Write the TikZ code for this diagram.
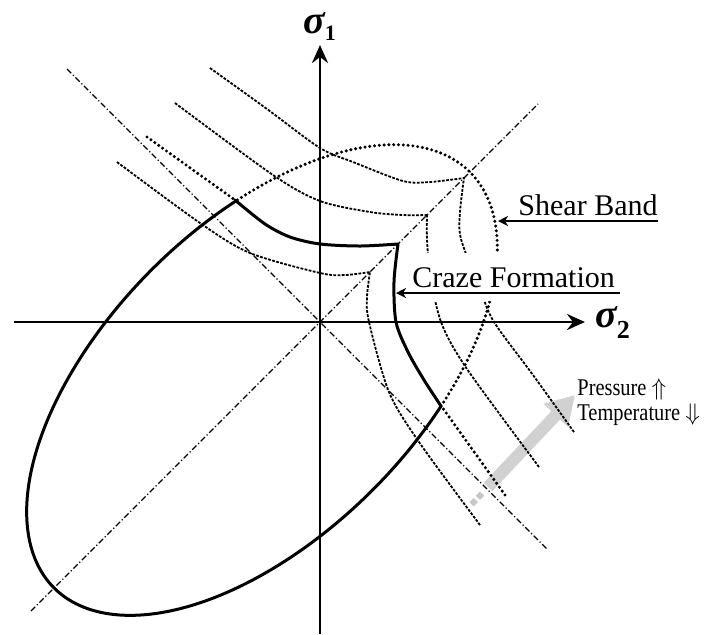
\documentclass[tikz,border=0pt]{standalone}
\usepackage{fontspec}
\setmainfont{Liberation Serif}
\newfontfamily\narrowfont[FakeStretch=0.85]{Liberation Serif}
\usepackage{amsmath,amssymb}
\usepackage{tikz}
\usetikzlibrary{arrows.meta,positioning}

\newcommand{\crazeset}{%
  \draw[craze] plot[smooth] coordinates {(-110,254) (-53,213) (0,174) (33,160) (83,141) (110,140) (144,144)};
  \draw[craze] plot[smooth] coordinates {(-145,219) (-47,147) (0,121) (50,110) (83,107) (107,107)};
  \draw[craze] plot[smooth] coordinates {(-203,160) (-120,99) (-70,69) (0,49) (25,47) (50,50)};
  \draw[bound] (-173,185) -- (-85,122);
}

\begin{document}
\begin{tikzpicture}[x=0.5pt, y=0.5pt, >=Stealth]
\tikzset{
  axis/.style={line width=1.4pt, -{Stealth[length=9pt,width=8pt,inset=3pt]}},
  envelope/.style={line width=1.5pt, line cap=round, line join=round},
  bound/.style={line width=1.7pt, line cap=round, dash pattern=on 0pt off 2.4pt},
  craze/.style={line width=0.9pt, dash pattern=on 1.4pt off 0.7pt},
  diag/.style={line width=0.6pt, dash pattern=on 3pt off 1.2pt on 0.6pt off 1.2pt},
  pointer/.style={line width=0.9pt, -{Stealth[length=5pt,width=5pt,inset=1.5pt]}},
  lbl/.style={font=\fontsize{15}{18}\selectfont, inner sep=0pt},
  axlbl/.style={font=\fontsize{20}{24}\selectfont\bfseries\itshape, inner sep=0pt, anchor=base west},
  loadarrow/.style={black!18, line width=6pt, -{Triangle[length=14pt,width=16pt]}},
}
\useasboundingbox (-320,-312) rectangle (395,322);
\coordinate (o) at (0,0);
\coordinate (load tail) at (168,-165);
\coordinate (load tip) at (255,-73);
\draw[black!22, line width=3pt, dash pattern=on 3pt off 1.5pt] (162,-171.5) -- (151.5,-182.5);
\draw[loadarrow] (load tail) -- (load tip);
\draw[diag] (-289,-289) -- (218,218);
\draw[diag] (-253,253) -- (228,-228);
\begin{scope}[shift={(-58,-58)}, rotate=45]
  \draw[envelope] (68.4:294 and 156) arc[start angle=68.4, end angle=291.6, x radius=294, y radius=156];
  \draw[bound] (-68.4:294 and 156) arc[start angle=-68.4, end angle=68.4, x radius=294, y radius=156];
\end{scope}
\crazeset
\begin{scope}[cm={0,1,1,0,(0,0)}]
  \crazeset
\end{scope}
\draw[envelope] plot[smooth] coordinates {(-85,122) (-55,98) (-30,85) (0,78) (40,76) (78,78)}
  -- plot[smooth] coordinates {(78,78) (74,40) (76,0) (88,-30) (104,-58) (121,-84)};
\draw[axis] (0,-312) -- (0,277);
\draw[axis] (-306,0) -- (265,0);
\node[axlbl] (s1) at (-17,289) {σ\raisebox{-3.5pt}{\fontsize{11}{11}\selectfont\upshape 1}};
\node[axlbl] (s2) at (275,-5) {σ\raisebox{-5.5pt}{\fontsize{13}{13}\selectfont\upshape 2}};
\node[lbl, anchor=base east] (shear) at (338,107) {Shear Band};
\coordinate (shear end) at (338,101);
\coordinate (shear tip) at (178,101);
\draw[pointer] (shear end) -- (shear tip);
\node[lbl, fill=white, inner xsep=2pt, inner ysep=7pt, anchor=base west] (craze) at (88,35) {Craze Formation};
\coordinate (craze end) at (300,29);
\coordinate (craze tip) at (76,29);
\draw[pointer] (craze end) -- (craze tip);
\node[anchor=west, align=left, inner sep=0pt, font=\narrowfont\fontsize{12}{12.5}\selectfont] (load) at (257,-80) {Pressure $\Uparrow$\\Temperature $\Downarrow$};
\end{tikzpicture}
\end{document}
